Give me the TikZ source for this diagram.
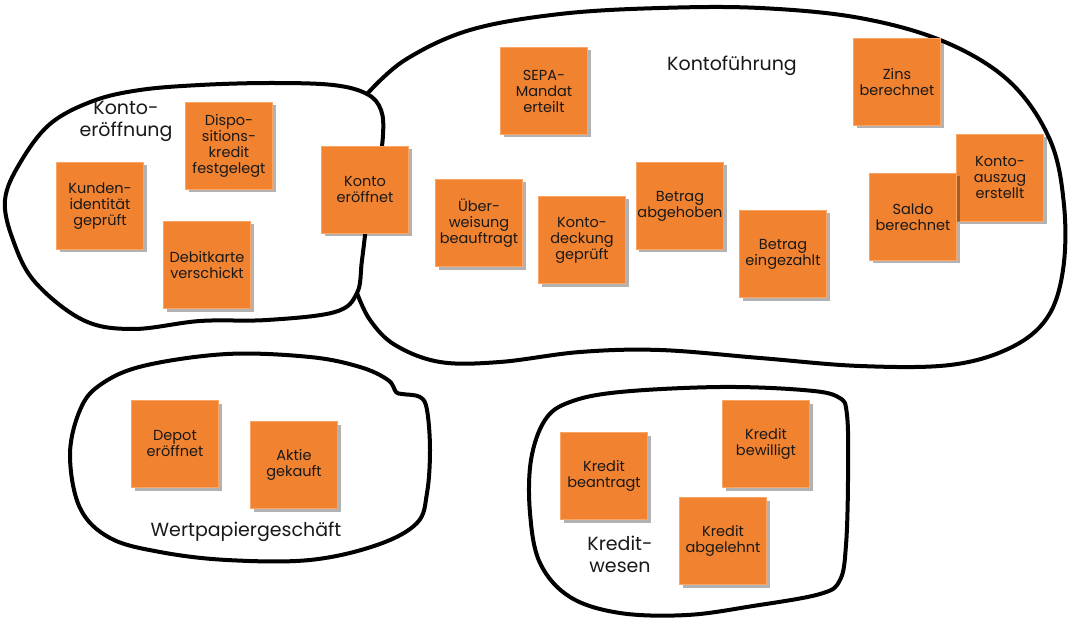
\documentclass[tikz,border=0pt]{standalone}
\usepackage{fontspec}
\setmainfont{Poppins}
\usetikzlibrary{shadows}
\definecolor{sticky}{RGB}{240,130,48}
\definecolor{stickyedge}{RGB}{250,165,100}
\begin{document}
\begin{tikzpicture}[x=1pt,y=-1pt,
  note/.style={draw=stickyedge, line width=0.6pt, fill=sticky, minimum width=87pt, minimum height=87pt,
    inner sep=1pt, align=center, font=\fontsize{14.5}{16}\selectfont, text=black!90,
    drop shadow={shadow xshift=3pt, shadow yshift=-3pt, opacity=0.3, fill=black}},
  blob/.style={line width=4pt, line join=round, line cap=round},
  grouplabel/.style={font=\fontsize{19}{22}\selectfont, align=center, text=black!90}]
\useasboundingbox (0,0) rectangle (1070,620);
\fill[white] (0,0) rectangle (1070,620);

% Konto-eroeffnung blob
\draw[blob] plot[smooth cycle, tension=0.6] coordinates {
  (5,200) (20,163) (50,124) (93,101) (140,90) (200,85) (270,83) (333,85) (367,94) (381,110)
  (383,135) (378,170) (368,215) (362,260) (357,293) (335,312) (267,320) (200,321)
  (133,329) (83,320) (35,282) (13,240)};
% Kontofuehrung blob (open, attached to the first one)
\draw[blob] plot[smooth, tension=0.6] coordinates {
  (367,94) (405,60) (470,30) (560,14) (660,8) (760,8) (860,18) (945,42) (1010,82) (1050,140)
  (1064,205) (1063,270) (1047,318) (1010,348) (950,365) (860,366) (760,358) (660,350)
  (580,352) (500,362) (440,362) (395,345) (370,320) (357,293)};
% Wertpapiergeschaeft blob
\draw[blob] plot[smooth cycle, tension=0.6] coordinates {
  (70,455) (80,410) (100,385) (143,366) (227,354) (310,357) (360,367) (388,380) (396,392)
  (402,394) (420,397) (427,410) (430,450) (427,493) (417,523) (377,545) (310,560)
  (227,560) (160,552) (110,538) (80,508)};
% Kreditwesen blob
\draw[blob] plot[smooth cycle, tension=0.6] coordinates {
  (545,420) (570,402) (620,392) (720,387) (803,390) (838,397) (847,415) (848,480) (846,545)
  (840,580) (820,594) (753,606) (687,615) (620,613) (570,597) (540,563) (530,513) (531,460)};

% group labels
\node[grouplabel] (lKE) at (126,121) {Konto-\\eröffnung};
\node[grouplabel] (lKF) at (732,66) {Kontoführung};
\node[grouplabel] (lWP) at (246,532) {Wertpapiergeschäft};
\node[grouplabel] (lKW) at (620,554) {Kredit-\\wesen};

% sticky notes
\node[note] (n1) at (100,206) {Kunden-\\identität\\geprüft};
\node[note] (n2) at (229,146) {Dispo-\\sitions-\\kredit\\festgelegt};
\node[note] (n3) at (207,265) {Debitkarte\\verschickt};
\node[note] (n4) at (365,190) {Konto\\eröffnet};
\node[note] (n5) at (544,91) {SEPA-\\Mandat\\erteilt};
\node[note] (n6) at (897,82) {Zins\\berechnet};
\node[note] (n7) at (479,223) {Über-\\weisung\\beauftragt};
\node[note] (n8) at (582,240) {Konto-\\deckung\\geprüft};
\node[note] (n9) at (680,206) {Betrag\\abgehoben};
\node[note] (n10) at (783,254) {Betrag\\eingezahlt};
\node[note] (n12) at (1000,178) {Konto-\\auszug\\erstellt};
\node[note] (n11) at (913,217) {Saldo\\berechnet};
\node[note] (n13) at (175,444) {Depot\\eröffnet};
\node[note] (n14) at (294,465) {Aktie\\gekauft};
\node[note] (n15) at (604,476) {Kredit\\beantragt};
\node[note] (n16) at (766,444) {Kredit\\bewilligt};
\node[note] (n17) at (723,541) {Kredit\\abgelehnt};
\end{tikzpicture}
\end{document}
